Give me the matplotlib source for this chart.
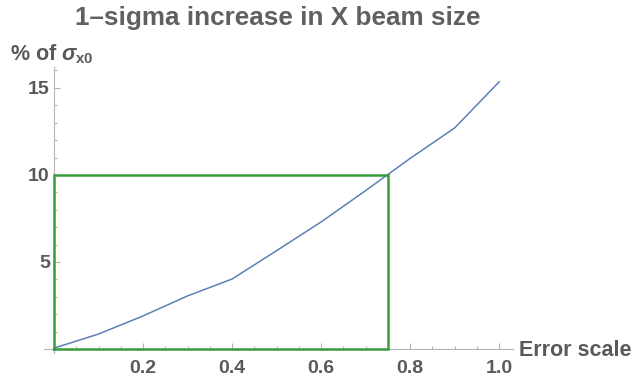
"""
1-sigma increase in X beam size versus error scale, Mathematica-style plot.
"""

import matplotlib
matplotlib.use("Agg")
import matplotlib.pyplot as plt
from matplotlib.ticker import MultipleLocator, FixedLocator

plt.rcParams["font.family"] = ["Liberation Sans", "DejaVu Sans"]
plt.rcParams["mathtext.fontset"] = "custom"
plt.rcParams["mathtext.rm"] = "Liberation Sans:bold"
plt.rcParams["mathtext.it"] = "Liberation Sans:italic:bold"

# values
error_scale = [0.0, 0.1, 0.2, 0.3, 0.4, 0.5, 0.6, 0.7, 0.8, 0.9, 1.0]
increase_pct = [0.05, 0.86, 1.9, 3.05, 4.02, 5.65, 7.3, 9.1, 10.95, 12.7, 15.35]

# green marker box: error scale 0.75 gives 10 %
box_x = [0.0, 0.75]
box_y = [0.0, 10.0]

x_ticks = [0.2, 0.4, 0.6, 0.8, 1.0]
x_tick_labels = ["0.2", "0.4", "0.6", "0.8", "1.0"]
y_ticks = [5, 10, 15]

text_grey = "#595959"
axis_grey = "#b4b4b4"

W, H = 636, 381
fig = plt.figure(figsize=(W / 100, H / 100), dpi=100)

# axes rectangle in pixels: left 44, right 513, top 67, bottom 353
ax = fig.add_axes([44 / W, (H - 353) / H, (513 - 44) / W, (353 - 67) / H])
ax.set_xlim(-0.0225, 1.031)
ax.set_ylim(-0.23, 16.2)

ax.plot(error_scale, increase_pct, color="#5d80b6", lw=1.1, zorder=3)

# the green box
ax.plot([box_x[0], box_x[1], box_x[1], box_x[0], box_x[0]],
        [box_y[0], box_y[0], box_y[1], box_y[1], box_y[0]],
        color="#3a9b3a", lw=1.8, zorder=4, solid_joinstyle="miter")

for side in ["top", "right"]:
    ax.spines[side].set_visible(False)
ax.spines["left"].set_position(("data", 0))
ax.spines["bottom"].set_position(("data", 0))
for side in ["left", "bottom"]:
    ax.spines[side].set_color(axis_grey)
    ax.spines[side].set_linewidth(0.8)

ax.xaxis.set_major_locator(FixedLocator(x_ticks))
ax.set_xticklabels(x_tick_labels)
ax.xaxis.set_minor_locator(MultipleLocator(0.05))
ax.yaxis.set_major_locator(FixedLocator(y_ticks))
ax.yaxis.set_minor_locator(MultipleLocator(1))

ax.tick_params(which="both", direction="in", color=axis_grey, width=0.8)
ax.tick_params(which="major", length=4)
ax.tick_params(which="minor", length=2.5)
ax.tick_params(axis="x", which="major", pad=8, labelsize=14, labelcolor=text_grey)
ax.tick_params(axis="y", which="major", pad=3, labelsize=14, labelcolor=text_grey)
for lab in ax.get_xticklabels() + ax.get_yticklabels():
    lab.set_fontweight("bold")

fig.text(0.5 * (75 + 481) / W, 1 - 18 / H, "1\u2013sigma increase in X beam size",
         ha="center", va="center", fontsize=18.8, fontweight="bold", color="#606060")
fig.text(10 / W, 1 - 54 / H, r"% of $\sigma_{\mathrm{x0}}$",
         ha="left", va="center", fontsize=15.5, fontweight="bold", color=text_grey)
fig.text(519 / W, 1 - 350 / H, "Error scale",
         ha="left", va="center", fontsize=15.5, fontweight="bold", color=text_grey)

fig.savefig("out.png", dpi=100)
